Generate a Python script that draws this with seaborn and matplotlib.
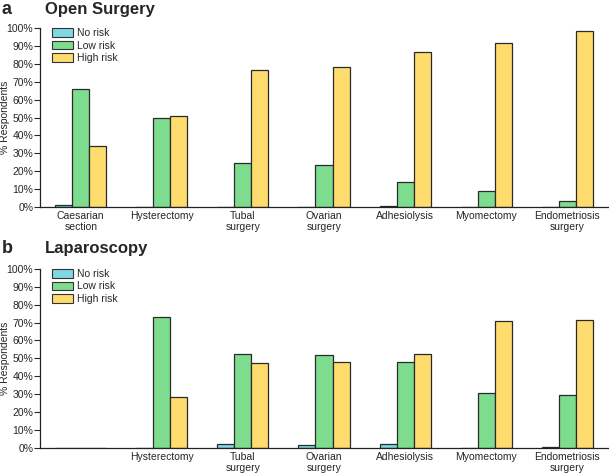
import pandas as pd
import matplotlib
matplotlib.use("Agg")
import matplotlib.pyplot as plt
import seaborn as sns
from matplotlib.ticker import PercentFormatter

# Data (% respondents)
procedures = ["Caesarian\nsection", "Hysterectomy", "Tubal\nsurgery", "Ovarian\nsurgery",
              "Adhesiolysis", "Myomectomy", "Endometriosis\nsurgery"]
lap_labels = ["", "Hysterectomy", "Tubal\nsurgery", "Ovarian\nsurgery",
              "Adhesiolysis", "Myomectomy", "Endometriosis\nsurgery"]
risk_levels = ["No risk", "Low risk", "High risk"]

open_no = [1.0, 0.0, 0.0, 0.0, 0.5, 0.0, 0.2]
open_low = [66, 50, 24.5, 23.5, 13.8, 8.9, 3.2]
open_high = [34.3, 51, 76.5, 78, 86.6, 91.5, 98.2]

lap_no = [0.0, 0.0, 2.1, 1.7, 2.2, 0.0, 0.3]
lap_low = [0.0, 73.3, 52.2, 51.7, 47.8, 30.4, 29.5]
lap_high = [0.0, 28.2, 47.6, 48.1, 52.2, 71.0, 71.5]

colors = ["#80D8E2", "#7EDC8E", "#FFDC6E"]


def long_table(no, low, high):
    rows = []
    for i, p in enumerate(procedures):
        for r, vals in zip(risk_levels, [no, low, high]):
            rows.append({"procedure": p, "risk": r, "pct": vals[i]})
    return pd.DataFrame(rows)


sns.set_style("ticks")
plt.rcParams["font.family"] = ["Liberation Sans", "DejaVu Sans"]

fig = plt.figure(figsize=(6.09, 4.75), dpi=100)
ax_top = fig.add_axes([0.066, 0.564, 0.932, 0.377])
ax_bot = fig.add_axes([0.066, 0.0575, 0.932, 0.3765])

panels = [
    (ax_top, long_table(open_no, open_low, open_high), "a", "Open Surgery", procedures, 1.078),
    (ax_bot, long_table(lap_no, lap_low, lap_high), "b", "Laparoscopy", lap_labels, 1.09),
]

for ax, df, letter, title, labels, ty in panels:
    sns.barplot(data=df, x="procedure", y="pct", hue="risk", order=procedures,
                hue_order=risk_levels, palette=colors, width=0.63, saturation=1,
                edgecolor="#2a2a2a", linewidth=0.9, ax=ax)
    ax.set_ylim(0, 100)
    ax.set_xlim(-0.5, 6.5)
    ax.set_yticks(range(0, 101, 10))
    ax.yaxis.set_major_formatter(PercentFormatter(decimals=0))
    ax.set_xticks(range(len(labels)))
    ax.set_xticklabels(labels, fontsize=7.5, linespacing=1.15)
    ax.tick_params(axis="y", labelsize=7.5, length=4, width=0.8, pad=1)
    ax.tick_params(axis="x", length=0, pad=3)
    ax.set_xlabel("")
    ax.set_ylabel("% Respondents", fontsize=7.5)
    ax.yaxis.set_label_coords(-0.054, 0.5)
    sns.despine(ax=ax)
    for s in ["left", "bottom"]:
        ax.spines[s].set_linewidth(0.9)
        ax.spines[s].set_color("#222222")
    leg = ax.legend(loc="upper left", bbox_to_anchor=(0.01, 1.035), frameon=False,
                    fontsize=7.5, handlelength=2.0, handleheight=0.9,
                    labelspacing=0.25, handletextpad=0.4, borderaxespad=0.2)
    for h in leg.legend_handles:
        h.set_edgecolor("#333333")
        h.set_linewidth(0.8)
    ax.text(-0.068, ty, letter, transform=ax.transAxes, fontsize=13,
            fontweight="bold", va="baseline", ha="left")
    ax.text(0.008, ty, title, transform=ax.transAxes, fontsize=12,
            fontweight="bold", va="baseline", ha="left")

fig.savefig("out.png", dpi=100)
